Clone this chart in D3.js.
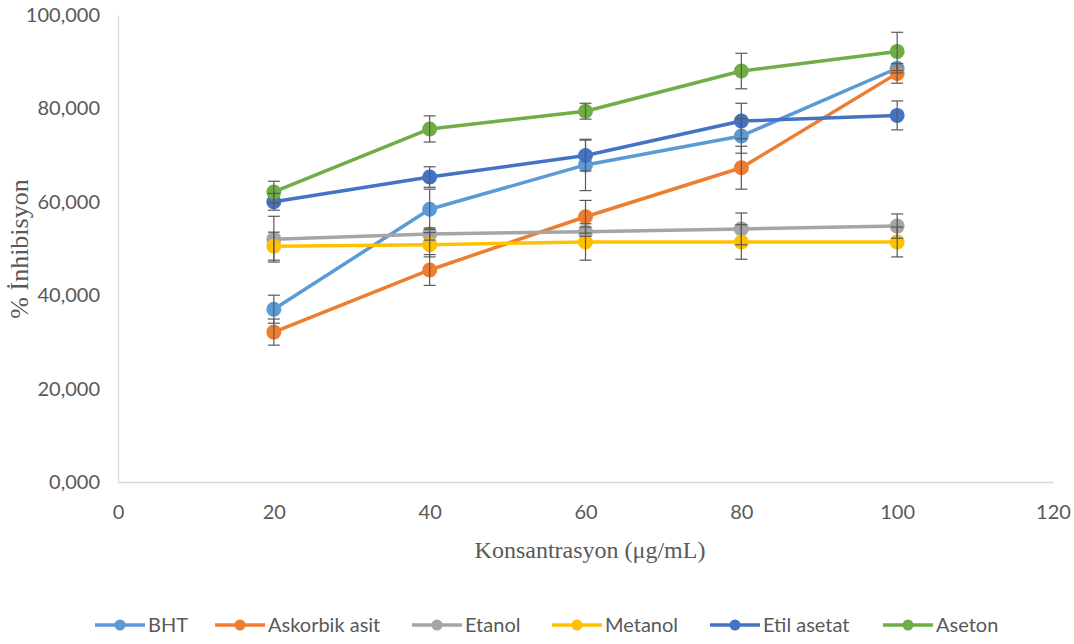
<!DOCTYPE html>
<html>
<head>
<meta charset="utf-8">
<script src="https://cdn.jsdelivr.net/npm/d3@7"></script>
<style>
  html, body { margin: 0; padding: 0; background: #fff; }
  svg { display: block; }
</style>
</head>
<body>
<svg id="chart" width="1074" height="644"></svg>
<script>
// ---- data ----
const concentrations = [20, 40, 60, 80, 100];
const seriesNames = ["BHT", "Askorbik asit", "Etanol", "Metanol", "Etil asetat", "Aseton"];
const bhtValues       = [37.0, 58.4, 67.9, 74.1, 88.6];
const askorbikValues  = [32.1, 45.4, 56.8, 67.3, 87.5];
const etanolValues    = [52.0, 53.1, 53.6, 54.2, 54.8];
const metanolValues   = [50.5, 50.8, 51.4, 51.4, 51.4];
const etilValues      = [60.0, 65.3, 69.9, 77.3, 78.5];
const asetonValues    = [62.1, 75.6, 79.4, 88.0, 92.2];
const bhtErr       = [3.0, 4.3, 5.5, 3.7, 1.0];
const askorbikErr  = [2.8, 3.3, 3.5, 4.6, 2.1];
const etanolErr    = [4.9, 1.3, 1.0, 3.4, 2.6];
const metanolErr   = [3.0, 2.6, 3.9, 3.7, 3.2];
const etilErr      = [1.8, 2.2, 3.3, 3.8, 3.1];
const asetonErr    = [2.3, 2.8, 1.7, 3.8, 4.1];
const xTicks = [0, 20, 40, 60, 80, 100, 120];
const yTicks = [0, 20, 40, 60, 80, 100];
const colors = ["#5B9BD5", "#ED7D31", "#A5A5A5", "#FFC000", "#4472C4", "#70AD47"];

const allValues = [bhtValues, askorbikValues, etanolValues, metanolValues, etilValues, asetonValues];
const allErr = [bhtErr, askorbikErr, etanolErr, metanolErr, etilErr, asetonErr];
const series = seriesNames.map((name, i) => ({
  name, color: colors[i],
  points: concentrations.map((c, j) => ({x: c, y: allValues[i][j], e: allErr[i][j]}))
}));

// ---- layout ----
const svg = d3.select("#chart");
const x = d3.scaleLinear().domain([0, 120]).range([118, 1053]);
const y = d3.scaleLinear().domain([0, 100]).range([482, 15]);
const tr = d3.formatLocale({decimal: ",", thousands: ".", grouping: [3], currency: ["", ""]});
const yFmt = tr.format(".3f");
const tickFont = "Lato, 'Liberation Sans', sans-serif";
const titleFont = "'Liberation Serif', 'Times New Roman', serif";

// axes
const yAxis = svg.append("g").attr("transform", `translate(${x(0)},0)`)
  .call(d3.axisLeft(y).tickValues(yTicks).tickSize(0).tickPadding(18).tickFormat(yFmt));
yAxis.select(".domain").attr("stroke", "#d9d9d9").attr("stroke-width", 1.3);
yAxis.selectAll("text").attr("font-family", tickFont).attr("font-size", 20).attr("fill", "#595959");

const xAxis = svg.append("g").attr("transform", `translate(0,${y(0)})`)
  .call(d3.axisBottom(x).tickValues(xTicks).tickSize(0).tickPadding(23).tickFormat(d3.format("d")));
xAxis.select(".domain").attr("stroke", "#d9d9d9").attr("stroke-width", 1.3);
xAxis.selectAll("text").attr("font-family", tickFont).attr("font-size", 20).attr("fill", "#595959");

// axis titles
svg.append("text").attr("x", 590).attr("y", 558).attr("text-anchor", "middle")
  .attr("font-family", titleFont).attr("font-size", 24).attr("fill", "#595959")
  .text("Konsantrasyon (μg/mL)");
svg.append("text").attr("transform", "translate(28,249) rotate(-90)").attr("text-anchor", "middle")
  .attr("font-family", titleFont).attr("font-size", 26).attr("fill", "#595959")
  .text("% İnhibisyon");

// series
const line = d3.line().x(d => x(d.x)).y(d => y(d.y));
const plot = svg.append("g");
series.forEach(s => {
  const g = plot.append("g");
  g.append("path").datum(s.points).attr("d", line)
    .attr("fill", "none").attr("stroke", s.color).attr("stroke-width", 3.5).attr("stroke-linejoin", "round");
  g.selectAll("circle").data(s.points).join("circle")
    .attr("cx", d => x(d.x)).attr("cy", d => y(d.y)).attr("r", 7.5).attr("fill", s.color);
});

// error bars
const eb = svg.append("g").attr("stroke", "#595959").attr("stroke-width", 1.2);
series.forEach(s => {
  s.points.forEach(d => {
    const cx = x(d.x), t = y(d.y + d.e), b = y(d.y - d.e);
    eb.append("line").attr("x1", cx).attr("x2", cx).attr("y1", t).attr("y2", b);
    eb.append("line").attr("x1", cx - 6).attr("x2", cx + 6).attr("y1", t).attr("y2", t);
    eb.append("line").attr("x1", cx - 6).attr("x2", cx + 6).attr("y1", b).attr("y2", b);
  });
});

// legend
const legendX = [95, 215, 412, 552, 710, 883];
const legendY = 625;
const leg = svg.append("g");
series.forEach((s, i) => {
  const g = leg.append("g").attr("transform", `translate(${legendX[i]},${legendY})`);
  g.append("line").attr("x1", 0).attr("x2", 50).attr("y1", 0).attr("y2", 0)
    .attr("stroke", s.color).attr("stroke-width", 3.5);
  g.append("circle").attr("cx", 25).attr("cy", 0).attr("r", 5.5).attr("fill", s.color);
  g.append("text").attr("x", 53).attr("y", 0).attr("dy", "0.35em")
    .attr("font-family", tickFont).attr("font-size", 20).attr("fill", "#595959").text(s.name);
});
</script>
</body>
</html>
